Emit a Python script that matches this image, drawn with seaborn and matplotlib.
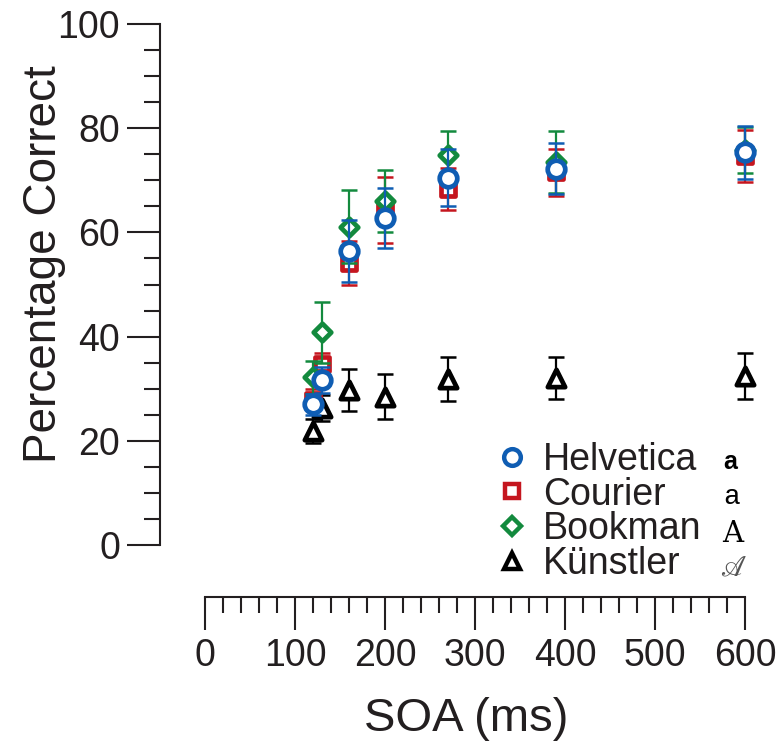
import pandas as pd
import matplotlib
matplotlib.use("Agg")
import matplotlib.pyplot as plt
from matplotlib.lines import Line2D
from matplotlib.ticker import MultipleLocator
import seaborn as sns

# Stimulus onset asynchrony (ms)
soa = [120, 130, 160, 200, 270, 390, 600]

typefaces = ["Helvetica", "Courier", "Bookman", "Künstler"]

# Mean percentage correct and standard errors per typeface
helvetica = [27.0, 31.6, 56.4, 62.8, 70.5, 72.2, 75.4]
helvetica_se = [2.0, 2.5, 6.0, 5.7, 5.5, 4.9, 5.1]
courier = [27.9, 34.8, 54.2, 64.3, 68.3, 71.5, 74.6]
courier_se = [2.0, 2.0, 4.2, 6.3, 4.0, 4.6, 5.0]
bookman = [32.2, 40.8, 61.1, 66.0, 74.8, 73.5, 75.8]
bookman_se = [3.2, 5.8, 7.0, 6.0, 4.7, 6.0, 4.4]
kunstler = [21.8, 26.3, 29.7, 28.5, 31.9, 32.0, 32.5]
kunstler_se = [2.3, 2.5, 4.0, 4.3, 4.2, 4.0, 4.4]

means = {"Helvetica": helvetica, "Courier": courier, "Bookman": bookman, "Künstler": kunstler}
errors = {"Helvetica": helvetica_se, "Courier": courier_se, "Bookman": bookman_se, "Künstler": kunstler_se}

rows = []
for name in typefaces:
    for s, m, e in zip(soa, means[name], errors[name]):
        rows.append({"typeface": name, "soa": s, "pct": m, "se": e})
df = pd.DataFrame(rows)

sns.set_theme(style="ticks")
plt.rcParams["font.family"] = ["Liberation Sans", "DejaVu Sans"]

ink = "#231f20"
colors = {"Helvetica": "#0f5db3", "Courier": "#c5161f", "Bookman": "#138a3e", "Künstler": "#000000"}
markers = {"Helvetica": "o", "Courier": "s", "Bookman": "D", "Künstler": "^"}
sizes = {"Helvetica": 160, "Courier": 115, "Bookman": 80, "Künstler": 155}

fig = plt.figure(figsize=(7.8, 7.41), dpi=100)
fig.patch.set_facecolor("white")
ax = fig.add_axes([205 / 780, 196 / 741, 540 / 780, 521 / 741])

draw_order = ["Künstler", "Courier", "Bookman", "Helvetica"]
for i, name in enumerate(draw_order):
    sub = df[df["typeface"] == name]
    eb = ax.errorbar(sub["soa"], sub["pct"], yerr=sub["se"], fmt="none",
                     ecolor=colors[name], elinewidth=1.6, capsize=5.5,
                     capthick=1.8, zorder=2 + 2 * i)
    for art in eb.lines[1] + eb.lines[2]:
        art.set_clip_on(False)
    sns.scatterplot(data=sub, x="soa", y="pct", marker=markers[name],
                    s=sizes[name], color="white", edgecolor=colors[name],
                    linewidth=3.4, ax=ax, zorder=3 + 2 * i, clip_on=False,
                    legend=False)

ax.set_xlim(0, 600)
ax.set_ylim(0, 100)
ax.xaxis.set_major_locator(MultipleLocator(100))
ax.xaxis.set_minor_locator(MultipleLocator(20))
ax.yaxis.set_major_locator(MultipleLocator(20))
ax.yaxis.set_minor_locator(MultipleLocator(5))

sns.despine(ax=ax, offset={"left": 32.4, "bottom": 37.4})
for side in ("left", "bottom"):
    ax.spines[side].set_linewidth(1.5)
    ax.spines[side].set_color(ink)

ax.tick_params(which="major", length=23.8, width=1.5, color=ink,
               labelsize=27, labelcolor=ink)
ax.tick_params(which="minor", length=11.5, width=1.5, color=ink)
ax.tick_params(axis="y", which="major", pad=5)
ax.tick_params(axis="x", which="major", pad=6)

ax.set_ylabel("Percentage Correct", fontsize=33, color=ink)
ax.yaxis.set_label_coords(-0.258, 0.539)
ax.set_xlabel("SOA (ms)", fontsize=34, color=ink)
ax.xaxis.set_label_coords(0.483, -0.292)

handle_sizes = {"Helvetica": 12, "Courier": 10.5, "Bookman": 8.7, "Künstler": 12}
handles = [Line2D([], [], linestyle="none", marker=markers[n],
                  markersize=handle_sizes[n], markerfacecolor="white",
                  markeredgecolor=colors[n], markeredgewidth=3.2)
           for n in typefaces]
leg = ax.legend(handles, typefaces, loc="center left",
                bbox_to_anchor=(493 / 780, 1 - 512 / 741),
                bbox_transform=fig.transFigure, frameon=False, fontsize=27,
                handlelength=1.0, handletextpad=0.33, labelspacing=-0.03,
                borderpad=0, borderaxespad=0)
for t in leg.get_texts():
    t.set_color(ink)

# Sample glyph of each typeface next to its legend entry
fig.text(730 / 780, 1 - 469 / 741, "a", fontsize=18, fontweight="bold",
         ha="center", va="baseline", color="black")
fig.text(731.5 / 780, 1 - 504 / 741, "a", fontsize=20, family="Liberation Mono",
         ha="center", va="baseline", color="black")
fig.text(733 / 780, 1 - 541.5 / 741, "A", fontsize=21, family="DejaVu Serif",
         ha="center", va="baseline", color="black")
fig.text(733 / 780, 1 - 575 / 741, r"$\mathscr{A}$", fontsize=21,
         math_fontfamily="stix", ha="center", va="baseline", color="#555555")

fig.savefig("out.png", dpi=100, facecolor="white")
